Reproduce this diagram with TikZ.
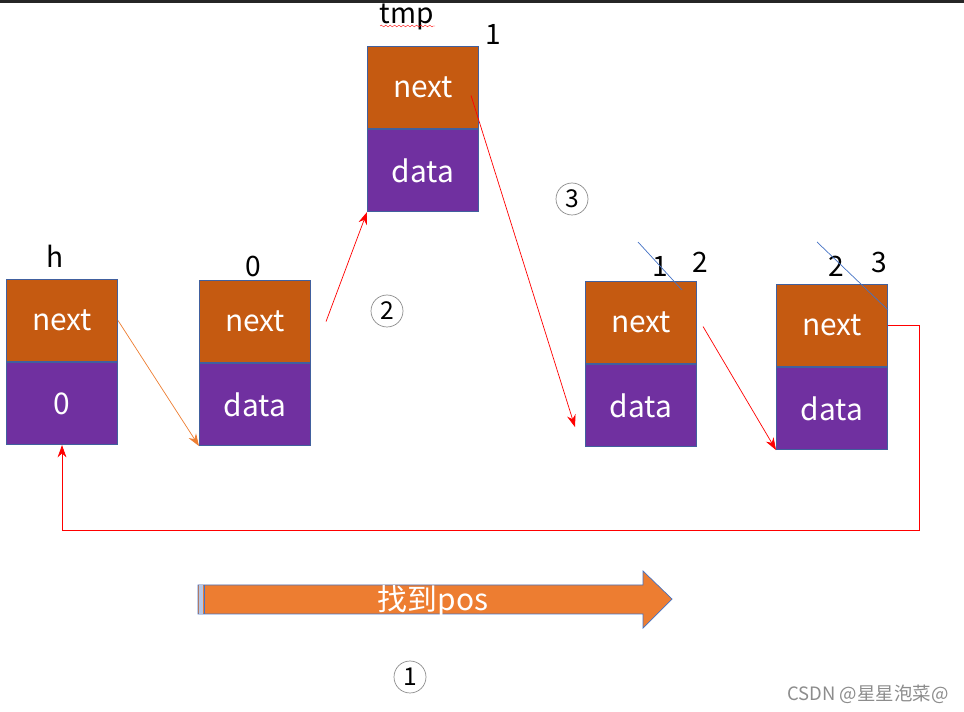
\documentclass[tikz,border=0pt]{standalone}
\usepackage{fontspec}
\setmainfont{Noto Sans CJK SC}
\usepackage{tikz}
\usetikzlibrary{positioning}
\usetikzlibrary{arrows.meta}
\usetikzlibrary{decorations.pathmorphing}
\definecolor{suivcoul}{HTML}{C55A11}
\definecolor{donncoul}{HTML}{7030A0}
\definecolor{bordcoul}{HTML}{41609E}
\definecolor{flechorange}{HTML}{ED7D31}
\definecolor{barrebleu}{HTML}{4472C4}

\begin{document}
\begin{tikzpicture}[x=0.02cm,y=-0.02cm]
% définition des paramètres
\tikzstyle casesuiv=[draw=bordcoul,line width=0.6pt,fill=suivcoul,text=white,minimum width=2.22cm,minimum height=1.64cm,inner sep=0pt,font=\fontsize{17}{20}\selectfont]
\tikzstyle casedonn=[casesuiv,fill=donncoul]
\tikzstyle etiqnum=[font=\fontsize{16}{19}\selectfont,inner sep=0pt]
\tikzstyle flecherouge=[draw=red,thin,-{Stealth[length=7pt,width=5pt]}]
\tikzstyle flecheorange=[draw=flechorange,thin,-{Stealth[length=7pt,width=5pt]}]
\tikzstyle rature=[color=barrebleu,thin]
\tikzstyle cercle=[circle,draw=black!45,thin,minimum size=0.64cm,inner sep=0pt,font=\fontsize{14}{16}\selectfont]

% le cadre
\useasboundingbox (0,0) rectangle (964,712);
\fill[black!85] (0,0) rectangle (964,3);

% les cellules
\foreach \nom/\x/\y/\val in {h/6/279/0,a/199/280/data,tmp/367/46/data,b/585/281/data,c/776/284/data}
{
  \node[casesuiv,anchor=north west] (n\nom) at (\x,\y) {next};
  \node[casedonn,below=0pt of n\nom] (d\nom) {\val};
}

% les étiquettes
\node[etiqnum] (lh) at (55,256) {h};
\node[etiqnum] (la) at (253,266) {0};
\node[etiqnum] (ltmp) at (407,17) {tmp};
\node[etiqnum] (ltmpun) at (493,34) {1};
\node[etiqnum] (lbun) at (660,266) {1};
\node[etiqnum] (lbdeux) at (700,262) {2};
\node[etiqnum] (lcdeux) at (836,266) {2};
\node[etiqnum] (lctrois) at (879,262) {3};
\draw[red,very thin,decorate,decoration={snake,amplitude=0.5pt,segment length=2.5pt}] (380,26) -- (435,26);

% les ratures
\draw[rature] (638,242) -- (682,290);
\draw[rature] (817,242) -- (888,310);

% les flèches
\draw[flecheorange] (nh.east) -- (da.south west);
\draw[flecherouge] ([xshift=0.3cm]na.east) -- (dtmp.south west);
\draw[flecherouge] ([xshift=-0.16cm,yshift=-0.16cm]ntmp.east) -- ([xshift=-0.2cm,yshift=0.4cm]db.south west);
\draw[flecherouge] ([xshift=0.12cm,yshift=-0.08cm]nb.east) -- (dc.south west);
\coordinate (coin) at (919,530);
\draw[flecherouge] (nc.east) -| (coin) -| (dh.south);

% la grosse flèche
\draw[draw=barrebleu,fill=flechorange,thin] (198,585) -- (643,585) -- (643,571) -- (672,599) -- (643,628) -- (643,614) -- (198,614) -- cycle;
\fill[white!60!barrebleu] (199,585) rectangle (203,614);
\draw[barrebleu,thin] (204,585) -- (204,614);
\node[font=\fontsize{17}{20}\selectfont,text=white,inner sep=0pt] (trouve) at (433,601) {找到pos};

% les numéros d'étape
\node[cercle] (un) at (410,677) {1};
\node[cercle] (deux) at (387,311) {2};
\node[cercle] (trois) at (572,199) {3};

% le filigrane
\node[text=black!45,font=\fontsize{10.5}{12}\selectfont,inner sep=0pt] (csdn) at (868,694) {CSDN @星星泡菜@};
\end{tikzpicture}
\end{document}
